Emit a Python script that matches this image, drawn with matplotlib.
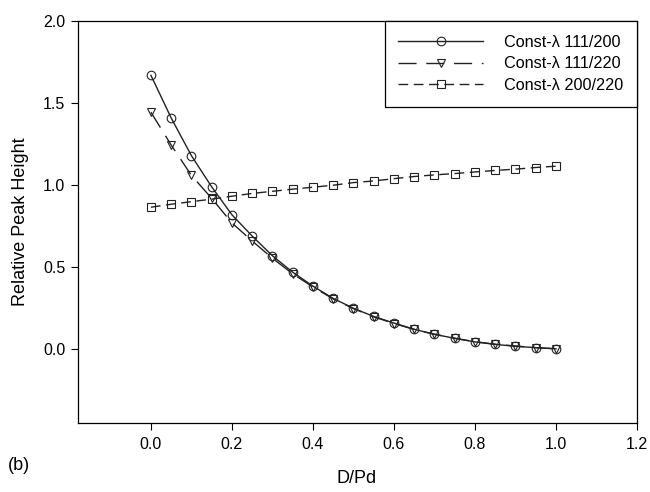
import matplotlib
matplotlib.use("Agg")
import matplotlib.pyplot as plt

# D/Pd values
d_pd = [0.0, 0.05, 0.1, 0.15, 0.2, 0.25, 0.3, 0.35, 0.4, 0.45, 0.5,
        0.55, 0.6, 0.65, 0.7, 0.75, 0.8, 0.85, 0.9, 0.95, 1.0]

# relative peak heights
const_111_200 = [1.67, 1.41, 1.18, 0.99, 0.82, 0.69, 0.57, 0.47, 0.385, 0.31, 0.25,
                 0.20, 0.16, 0.122, 0.091, 0.067, 0.045, 0.03, 0.018, 0.01, 0.003]
const_111_220 = [1.445, 1.245, 1.06, 0.92, 0.77, 0.66, 0.555, 0.46, 0.38, 0.307, 0.248,
                 0.198, 0.157, 0.121, 0.092, 0.067, 0.046, 0.031, 0.02, 0.01, 0.003]
const_200_220 = [0.866, 0.884, 0.90, 0.915, 0.933, 0.95, 0.963, 0.976, 0.988, 1.0, 1.016,
                 1.026, 1.04, 1.053, 1.063, 1.071, 1.081, 1.09, 1.098, 1.108, 1.116]

labels = ["Const-λ 111/200", "Const-λ 111/220", "Const-λ 200/220"]
x_ticks = [0.0, 0.2, 0.4, 0.6, 0.8, 1.0, 1.2]
y_ticks = [0.0, 0.5, 1.0, 1.5, 2.0]

plt.rcParams["font.family"] = ["Liberation Sans", "DejaVu Sans"]

fig = plt.figure(figsize=(6.5, 4.92), dpi=100)
ax = fig.add_axes([0.12, 0.14, 0.86, 0.817])

ax.plot(d_pd, const_111_200, color="#222222", lw=1, marker="o", markersize=6.2,
        markerfacecolor="none", markeredgewidth=0.8, label=labels[0])
ax.plot(d_pd, const_111_220, color="#222222", lw=1, marker="v", markersize=6.2,
        markerfacecolor="none", markeredgewidth=0.8, dashes=(13, 7), label=labels[1])
ax.plot(d_pd, const_200_220, color="#222222", lw=1, marker="s", markersize=5.2,
        markerfacecolor="none", markeredgewidth=0.8, dashes=(7, 4), label=labels[2])

ax.set_xlim(-0.18, 1.2)
ax.set_ylim(-0.45, 2.0)
ax.set_xticks(x_ticks)
ax.set_xticklabels(["%.1f" % t for t in x_ticks])
ax.set_yticks(y_ticks)
ax.set_yticklabels(["%.1f" % t for t in y_ticks])
ax.tick_params(axis="both", direction="out", length=5, width=0.8, labelsize=11.5)
ax.tick_params(axis="x", pad=5)
ax.tick_params(axis="y", pad=4)
for s in ax.spines.values():
    s.set_linewidth(0.9)

ax.set_ylabel("Relative Peak Height", fontsize=13, labelpad=10)
fig.text(0.549, 0.028, "D/Pd", fontsize=13, ha="center", va="center")
fig.text(0.012, 0.053, "(b)", fontsize=13, ha="left", va="center")

leg = ax.legend(loc="upper right", borderaxespad=0, fontsize=11.7, handlelength=5.2,
                handletextpad=1.3, labelspacing=0.4, borderpad=0.85, fancybox=False,
                edgecolor="black", framealpha=1)
leg.get_frame().set_linewidth(0.9)

fig.savefig("out.png", dpi=100)
